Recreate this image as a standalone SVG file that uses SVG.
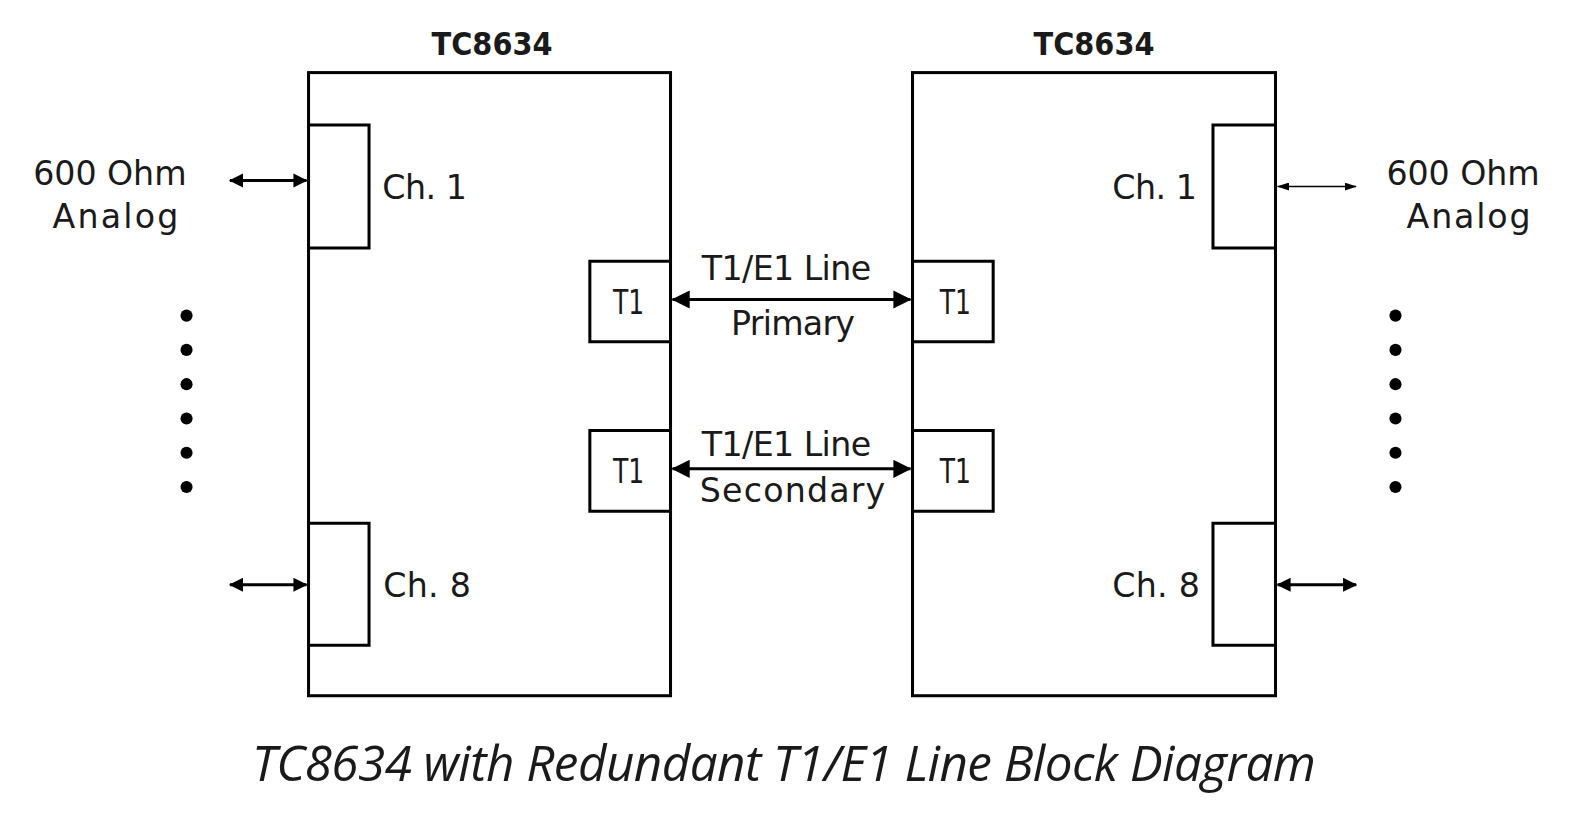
<svg xmlns="http://www.w3.org/2000/svg" width="1581" height="816" viewBox="0 0 1581 816">
<defs>
<style>
.box{fill:none;stroke:#000;stroke-width:3}
.ln{stroke:#000;stroke-width:3;fill:none}
.thin{stroke:#000;stroke-width:1.5;fill:none}
.t{font-family:"DejaVu Sans",sans-serif;fill:#1a1a1a;font-size:33px}
.hd{font-family:"DejaVu Sans",sans-serif;font-weight:bold;fill:#1a1a1a;font-size:31px}
.cap{font-family:"Open Sans",sans-serif;font-style:italic;fill:#1a1a1a;font-size:49px}
</style>
<marker id="big" viewBox="0 0 18 18" refX="17" refY="9" markerWidth="18" markerHeight="18" orient="auto-start-reverse" markerUnits="userSpaceOnUse"><path d="M0,0 L18,9 L0,18 z" fill="#000"/></marker>
<marker id="mid" viewBox="0 0 14 14" refX="13" refY="7" markerWidth="14" markerHeight="14" orient="auto-start-reverse" markerUnits="userSpaceOnUse"><path d="M0,0 L14,7 L0,14 z" fill="#000"/></marker>
<marker id="sm" viewBox="0 0 12 8" refX="11.5" refY="4" markerWidth="12" markerHeight="8" orient="auto-start-reverse" markerUnits="userSpaceOnUse"><path d="M0,0 L12,4 L0,8 z" fill="#000"/></marker>
</defs>
<rect width="1581" height="816" fill="#fff"/>
<g transform="scale(1.0083)">
<g id="left-unit">
<rect class="box" x="306" y="72" width="359" height="618"/>
<text class="hd" x="488" y="55" text-anchor="middle" textLength="120" lengthAdjust="spacingAndGlyphs">TC8634</text>
</g>
<g id="left-ch1">
<polyline class="box" points="306,124 366,124 366,246 306,246"/>
<text class="t" x="379" y="197" textLength="84">Ch. 1</text>
</g>
<g id="left-ch8">
<polyline class="box" points="306,519 366,519 366,640 306,640"/>
<text class="t" x="380" y="592" textLength="87">Ch. 8</text>
</g>
<g id="left-t1-primary">
<polyline class="box" points="665,259 585,259 585,339 665,339"/>
<text class="t" x="608" y="311" textLength="31" lengthAdjust="spacingAndGlyphs">T1</text>
</g>
<g id="left-t1-secondary">
<polyline class="box" points="665,427 585,427 585,507 665,507"/>
<text class="t" x="608" y="479" textLength="31" lengthAdjust="spacingAndGlyphs">T1</text>
</g>

<g id="right-unit">
<rect class="box" x="905" y="72" width="360" height="618"/>
<text class="hd" x="1085" y="55" text-anchor="middle" textLength="120" lengthAdjust="spacingAndGlyphs">TC8634</text>
</g>
<g id="right-ch1">
<polyline class="box" points="1265,124 1203,124 1203,246 1265,246"/>
<text class="t" x="1103" y="197" textLength="84">Ch. 1</text>
</g>
<g id="right-ch8">
<polyline class="box" points="1265,519 1203,519 1203,640 1265,640"/>
<text class="t" x="1103" y="592" textLength="87">Ch. 8</text>
</g>
<g id="right-t1-primary">
<polyline class="box" points="905,259 985,259 985,339 905,339"/>
<text class="t" x="932" y="311" textLength="31" lengthAdjust="spacingAndGlyphs">T1</text>
</g>
<g id="right-t1-secondary">
<polyline class="box" points="905,427 985,427 985,507 905,507"/>
<text class="t" x="932" y="479" textLength="31" lengthAdjust="spacingAndGlyphs">T1</text>
</g>

<g id="left-analog">
<text class="t" x="33" y="183" textLength="152">600 Ohm</text>
<text class="t" x="52" y="226" textLength="125">Analog</text>
</g>
<g id="right-analog">
<text class="t" x="1375" y="183" textLength="152">600 Ohm</text>
<text class="t" x="1395" y="226" textLength="123">Analog</text>
</g>

<g id="left-dots" fill="#000">
<circle cx="185" cy="313" r="6"/><circle cx="185" cy="347" r="6"/><circle cx="185" cy="381" r="6"/>
<circle cx="185" cy="415" r="6"/><circle cx="185" cy="449" r="6"/><circle cx="185" cy="483" r="6"/>
</g>
<g id="right-dots" fill="#000">
<circle cx="1384" cy="313" r="6"/><circle cx="1384" cy="347" r="6"/><circle cx="1384" cy="381" r="6"/>
<circle cx="1384" cy="415" r="6"/><circle cx="1384" cy="449" r="6"/><circle cx="1384" cy="483" r="6"/>
</g>

<g id="connectors">
<line class="ln" x1="667" y1="297" x2="903" y2="297" marker-start="url(#big)" marker-end="url(#big)"/>
<line class="ln" x1="667" y1="465" x2="903" y2="465" marker-start="url(#big)" marker-end="url(#big)"/>
<line class="ln" x1="228" y1="179" x2="304" y2="179" marker-start="url(#mid)" marker-end="url(#mid)"/>
<line class="ln" x1="228" y1="580" x2="304" y2="580" marker-start="url(#mid)" marker-end="url(#mid)"/>
<line class="thin" x1="1267" y1="185" x2="1345" y2="185" marker-start="url(#sm)" marker-end="url(#sm)"/>
<line class="ln" x1="1267" y1="580" x2="1345" y2="580" marker-start="url(#mid)" marker-end="url(#mid)"/>
</g>

<g id="line-labels">
<text class="t" x="696" y="278" textLength="168">T1/E1 Line</text>
<text class="t" x="725" y="332" textLength="123">Primary</text>
<text class="t" x="696" y="452" textLength="168">T1/E1 Line</text>
<text class="t" x="694" y="498" textLength="184">Secondary</text>
</g>

<text id="caption" class="cap" x="250" y="775" textLength="1055">TC8634 with Redundant T1/E1 Line Block Diagram</text>
</g>
</svg>
